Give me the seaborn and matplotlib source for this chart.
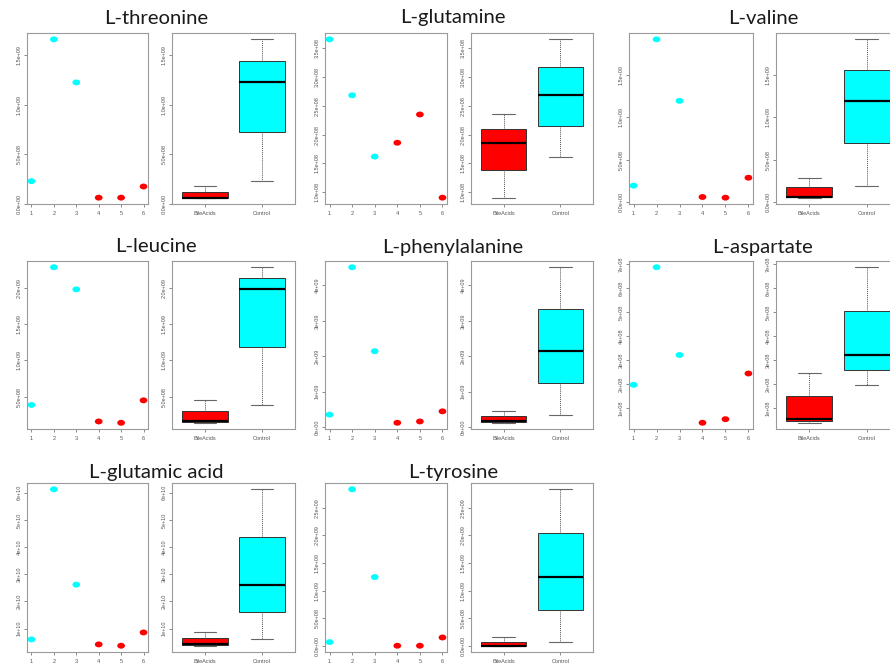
import numpy as np
import pandas as pd
import matplotlib
matplotlib.use("Agg")
import matplotlib.pyplot as plt
import seaborn as sns
from matplotlib.path import Path
from matplotlib.markers import MarkerStyle

# ---------------- data ----------------
metabolites = ["L-threonine", "L-glutamine", "L-valine",
               "L-leucine", "L-phenylalanine", "L-aspartate",
               "L-glutamic acid", "L-tyrosine"]
samples = [1, 2, 3, 4, 5, 6]
groups = ["Control", "Control", "Control", "BileAcids", "BileAcids", "BileAcids"]
group_order = ["BileAcids", "Control"]
sample_ticks = ["1", "2", "3", "4", "5", "6"]

threonine = [2.28e8, 1.663e9, 1.227e9, 6.1e7, 6.1e7, 1.74e8]
glutamine = [3.652e8, 2.682e8, 1.619e8, 1.859e8, 2.349e8, 0.907e8]
valine = [1.93e8, 1.925e9, 1.197e9, 5.9e7, 5.1e7, 2.87e8]
leucine = [3.9e8, 2.28e9, 1.976e9, 1.63e8, 1.45e8, 4.53e8]
phenylalanine = [3.5e8, 4.515e9, 2.142e9, 1.2e8, 1.57e8, 4.43e8]
aspartate = [1.97e8, 6.86e8, 3.21e8, 3.9e7, 5.4e7, 2.44e8]
glutamic_acid = [5.99e9, 6.125e10, 2.616e10, 4.16e9, 3.67e9, 8.56e9]
tyrosine = [7.2e7, 2.834e9, 1.247e9, 6e6, 6e6, 1.55e8]

threonine_ticks = [0, 5e8, 1e9, 1.5e9]
threonine_labels = ["0.0e+00", "5.0e+08", "1.0e+09", "1.5e+09"]
glutamine_ticks = [1.0e8, 1.5e8, 2.0e8, 2.5e8, 3.0e8, 3.5e8]
glutamine_labels = ["1.0e+08", "1.5e+08", "2.0e+08", "2.5e+08", "3.0e+08", "3.5e+08"]
valine_ticks = [0, 5e8, 1e9, 1.5e9]
valine_labels = ["0.0e+00", "5.0e+08", "1.0e+09", "1.5e+09"]
leucine_ticks = [5e8, 1e9, 1.5e9, 2e9]
leucine_labels = ["5.0e+08", "1.0e+09", "1.5e+09", "2.0e+09"]
phenylalanine_ticks = [0, 1e9, 2e9, 3e9, 4e9]
phenylalanine_labels = ["0e+00", "1e+09", "2e+09", "3e+09", "4e+09"]
aspartate_ticks = [1e8, 2e8, 3e8, 4e8, 5e8, 6e8, 7e8]
aspartate_labels = ["1e+08", "2e+08", "3e+08", "4e+08", "5e+08", "6e+08", "7e+08"]
glutamic_acid_ticks = [1e10, 2e10, 3e10, 4e10, 5e10, 6e10]
glutamic_acid_labels = ["1e+10", "2e+10", "3e+10", "4e+10", "5e+10", "6e+10"]
tyrosine_ticks = [0, 5e8, 1e9, 1.5e9, 2e9, 2.5e9]
tyrosine_labels = ["0.0e+00", "5.0e+08", "1.0e+09", "1.5e+09", "2.0e+09", "2.5e+09"]

panel_values = [threonine, glutamine, valine, leucine, phenylalanine,
                aspartate, glutamic_acid, tyrosine]
panel_ticks = [threonine_ticks, glutamine_ticks, valine_ticks, leucine_ticks,
               phenylalanine_ticks, aspartate_ticks, glutamic_acid_ticks, tyrosine_ticks]
panel_labels = [threonine_labels, glutamine_labels, valine_labels, leucine_labels,
                phenylalanine_labels, aspartate_labels, glutamic_acid_labels, tyrosine_labels]

# ---------------- style ----------------
sns.set_style("white")
plt.rcParams["font.family"] = ["Liberation Sans", "DejaVu Sans"]

palette = {"Control": "#00FFFF", "BileAcids": "#FF0000"}
W, H = 890, 670
fig = plt.figure(figsize=(W / 100, H / 100), dpi=100)
fig.patch.set_facecolor("white")

rows = [(33, 204), (261, 429), (483, 652)]
scatter_cols = [(27, 148), (325, 447), (629, 753)]
box_cols = [(172, 295), (471, 593), (776, 900)]
title_x = [156, 453, 763]
title_base = [23.5, 252.5, 478]

circ = Path.unit_circle()
ell_verts = circ.vertices * np.array([1.0, 0.76])
ellipse = MarkerStyle(Path(ell_verts, circ.codes))

TICK_FS = 4.0
TICK_COLOR = "#555555"
FRAME_COLOR = "#9a9a9a"


def px_axes(x0, x1, y0, y1):
    return fig.add_axes([x0 / W, 1 - y1 / H, (x1 - x0) / W, (y1 - y0) / H])


def style_axes(ax, yticks, ylabels):
    for sp in ax.spines.values():
        sp.set_color(FRAME_COLOR)
        sp.set_linewidth(0.8)
        sp.set_visible(True)
    ax.set_yticks(yticks)
    ax.set_yticklabels(ylabels, rotation=90, va="center", fontsize=TICK_FS,
                       color=TICK_COLOR)
    ax.tick_params(axis="both", which="both", direction="out", length=2.2,
                   width=0.6, color="#777777", pad=1.5, labelsize=TICK_FS,
                   labelcolor=TICK_COLOR, left=True, bottom=True)
    ax.tick_params(axis="x", pad=2.5)
    ax.set_xlabel("")
    ax.set_ylabel("")
    ax.set_facecolor("white")


for i, name in enumerate(metabolites):
    r, c = divmod(i, 3)
    y0, y1 = rows[r]
    vals = panel_values[i]
    df = pd.DataFrame({"sample": samples, "value": vals, "group": groups})
    lo, hi = min(vals), max(vals)
    rng = hi - lo
    ylim = (lo - 0.04 * rng, hi + 0.04 * rng)

    # scatter panel
    ax1 = px_axes(scatter_cols[c][0], scatter_cols[c][1], y0, y1)
    sns.scatterplot(data=df, x="sample", y="value", hue="group", palette=palette,
                    marker=ellipse, s=31, linewidth=0, legend=False, ax=ax1)
    ax1.set_xlim(0.8, 6.2)
    ax1.set_ylim(*ylim)
    ax1.set_xticks(samples)
    ax1.set_xticklabels(sample_ticks, fontsize=TICK_FS, color=TICK_COLOR)
    style_axes(ax1, panel_ticks[i], panel_labels[i])

    # box panel
    ax2 = px_axes(box_cols[c][0], box_cols[c][1], y0, y1)
    sns.boxplot(data=df, x="group", y="value", hue="group", order=group_order,
                hue_order=group_order, palette=palette, saturation=1, width=0.8,
                whis=(0, 100), showfliers=False, linewidth=0.7, linecolor="#333333",
                medianprops={"color": "black", "linewidth": 1.6},
                whiskerprops={"linestyle": (0, (1, 1)), "color": "#555555", "linewidth": 0.7},
                capprops={"color": "#666666", "linewidth": 0.8},
                legend=False, dodge=False, ax=ax2)
    ax2.set_xlim(-0.58, 1.58)
    ax2.set_ylim(*ylim)
    ax2.set_xticks([0, 1])
    ax2.set_xticklabels(group_order, fontsize=TICK_FS, color=TICK_COLOR)
    style_axes(ax2, panel_ticks[i], panel_labels[i])

    fig.text(title_x[c] / W, 1 - title_base[r] / H, name, ha="center", va="baseline",
             fontsize=14.6, color="#1a1a1a", family=["Lato", "DejaVu Sans"])

fig.savefig("out.png", dpi=100, facecolor="white")
